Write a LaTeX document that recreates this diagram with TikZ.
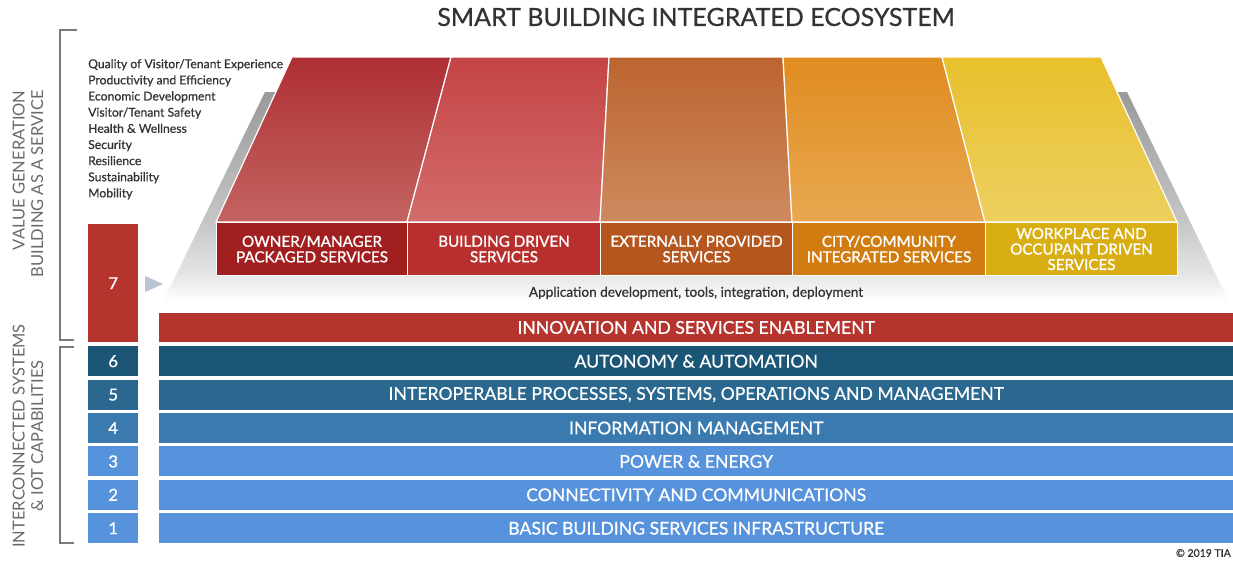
\documentclass[tikz,border=0pt]{standalone}
\usepackage{fontspec}
\setmainfont{Lato}
\newfontfamily\med{Lato}[FakeBold=0.6]
\newfontfamily\semi{Lato}[FakeBold=1.1]
\definecolor{txt}{HTML}{333333}
\definecolor{side}{HTML}{6A6A6A}
\definecolor{brk}{HTML}{7A7A7A}
\definecolor{pg1}{HTML}{E6E6E6}
\definecolor{pg2}{HTML}{C6C6C6}
\definecolor{pg3}{HTML}{9A9A9A}
\definecolor{redbar}{HTML}{B5342E}
\definecolor{bsix}{HTML}{1C5676}
\definecolor{bfive}{HTML}{2A6890}
\definecolor{bfour}{HTML}{3A7AAE}
\definecolor{blite}{HTML}{5792DC}
\definecolor{arrowc}{HTML}{B8C3D3}
\definecolor{tA}{HTML}{AE2F34}\definecolor{bA}{HTML}{C46462}\definecolor{fA}{HTML}{A21F20}
\definecolor{tB}{HTML}{C44444}\definecolor{bB}{HTML}{D46C6C}\definecolor{fB}{HTML}{B8302E}
\definecolor{tC}{HTML}{BC6430}\definecolor{bC}{HTML}{CE8A5E}\definecolor{fC}{HTML}{B5561E}
\definecolor{tD}{HTML}{E08C20}\definecolor{bD}{HTML}{E8A850}\definecolor{fD}{HTML}{D07C10}
\definecolor{tE}{HTML}{E8C02C}\definecolor{bE}{HTML}{EDD060}\definecolor{fE}{HTML}{D8AE12}
\pgfdeclareverticalshading{platform}{100bp}{color(0bp)=(white); color(27bp)=(white); color(33bp)=(pg1); color(45bp)=(pg2); color(75bp)=(pg3); color(100bp)=(pg3)}
\begin{document}
\begin{tikzpicture}[x=1pt,y=-1pt,
  barbox/.style={anchor=north west, minimum width=1074pt, minimum height=30pt, inner sep=0pt, text=white, font=\med\fontsize{17.6}{19}\selectfont},
  numbox/.style={anchor=north west, minimum width=50pt, minimum height=30pt, inner sep=0pt, text=white, font=\semi\fontsize{16.5}{18}\selectfont},
  frontbox/.style={anchor=north west, minimum height=53pt, inner sep=0pt, text=white, align=center, draw=white, line width=1pt, font=\semi\fontsize{15.2}{15.5}\selectfont},
  topface/.style={draw=white, line width=1.2pt},
  sidelbl/.style={text=side, rotate=90, font=\fontsize{16.5}{18.5}\selectfont},
  bracket/.style={draw=brk, line width=1.1pt}]
\useasboundingbox (0,0) rectangle (1233,560);
\fill[white] (0,0) rectangle (1233,560);

% title
\node[text=txt, font=\med\fontsize{25}{28}\selectfont] (title) at (696,17) {SMART BUILDING INTEGRATED ECOSYSTEM};

% brackets
\draw[bracket] (77,30) -- (60,30) -- (60,340) -- (74,340);
\draw[bracket] (74,347) -- (60,347) -- (60,543) -- (74,543);

% side labels
\node[sidelbl, anchor=east, align=right] (vg) at (28,87) {VALUE GENERATION\\BUILDING AS A SERVICE};
\node[sidelbl, align=center] (ic) at (28,436) {INTERCONNECTED SYSTEMS\\\& IOT CAPABILITIES};

% value list
\node[anchor=north west, align=left, inner sep=0pt, text=txt, font=\med\fontsize{12.2}{16.15}\selectfont] (vals) at (88,59)
 {Quality of Visitor/Tenant Experience\\Productivity and Efficiency\\Economic Development\\Visitor/Tenant Safety\\Health \& Wellness\\Security\\Resilience\\Sustainability\\Mobility};

% platform
\shade[shading=platform] (265,92) -- (1127,92) -- (1233,310) -- (159,310) -- cycle;

% columns: top faces
\shade[topface, top color=tA, bottom color=bA] (292,57) -- (451,57) -- (407,222) -- (216,222) -- cycle;
\shade[topface, top color=tB, bottom color=bB] (451,57) -- (609,57) -- (600,222) -- (407,222) -- cycle;
\shade[topface, top color=tC, bottom color=bC] (609,57) -- (783,57) -- (792,222) -- (600,222) -- cycle;
\shade[topface, top color=tD, bottom color=bD] (783,57) -- (942,57) -- (985,222) -- (792,222) -- cycle;
\shade[topface, top color=tE, bottom color=bE] (942,57) -- (1101,57) -- (1177,222) -- (985,222) -- cycle;

% front faces
\node[frontbox, fill=fA, minimum width=191pt] (c1) at (216,222) {OWNER/MANAGER\\PACKAGED SERVICES};
\node[frontbox, fill=fB, minimum width=193pt] (c2) at (407,222) {BUILDING DRIVEN\\SERVICES};
\node[frontbox, fill=fC, minimum width=192pt] (c3) at (600,222) {EXTERNALLY PROVIDED\\SERVICES};
\node[frontbox, fill=fD, minimum width=193pt] (c4) at (792,222) {CITY/COMMUNITY\\INTEGRATED SERVICES};
\node[frontbox, fill=fE, minimum width=192pt] (c5) at (985,222) {WORKPLACE AND\\OCCUPANT DRIVEN\\SERVICES};

\node[text=txt, font=\med\fontsize{13.6}{15}\selectfont] (app) at (696,293) {Application development, tools, integration, deployment};

% arrow
\fill[arrowc] (145,276) -- (145,292) -- (163,284) -- cycle;

% number boxes
\node[numbox, fill=redbar, minimum height=118pt] (n7) at (88,224) {7};
\node[numbox, fill=bsix] (n6) at (88,346) {6};
\node[numbox, fill=bfive] (n5) at (88,379.4) {5};
\node[numbox, fill=bfour] (n4) at (88,412.8) {4};
\node[numbox, fill=blite] (n3) at (88,446.2) {3};
\node[numbox, fill=blite] (n2) at (88,479.6) {2};
\node[numbox, fill=blite] (n1) at (88,513) {1};

% bars
\node[barbox, fill=redbar, minimum height=29.5pt] (b7) at (159,312.5) {INNOVATION AND SERVICES ENABLEMENT};
\node[barbox, fill=bsix] (b6) at (159,346) {AUTONOMY \& AUTOMATION};
\node[barbox, fill=bfive] (b5) at (159,379.4) {INTEROPERABLE PROCESSES, SYSTEMS, OPERATIONS AND MANAGEMENT};
\node[barbox, fill=bfour] (b4) at (159,412.8) {INFORMATION MANAGEMENT};
\node[barbox, fill=blite] (b3) at (159,446.2) {POWER \& ENERGY};
\node[barbox, fill=blite] (b2) at (159,479.6) {CONNECTIVITY AND COMMUNICATIONS};
\node[barbox, fill=blite] (b1) at (159,513) {BASIC BUILDING SERVICES INFRASTRUCTURE};

\node[anchor=east, text=txt, inner sep=0pt, font=\med\fontsize{10.5}{12}\selectfont] (copy) at (1231,553) {© 2019 TIA};
\end{tikzpicture}
\end{document}
